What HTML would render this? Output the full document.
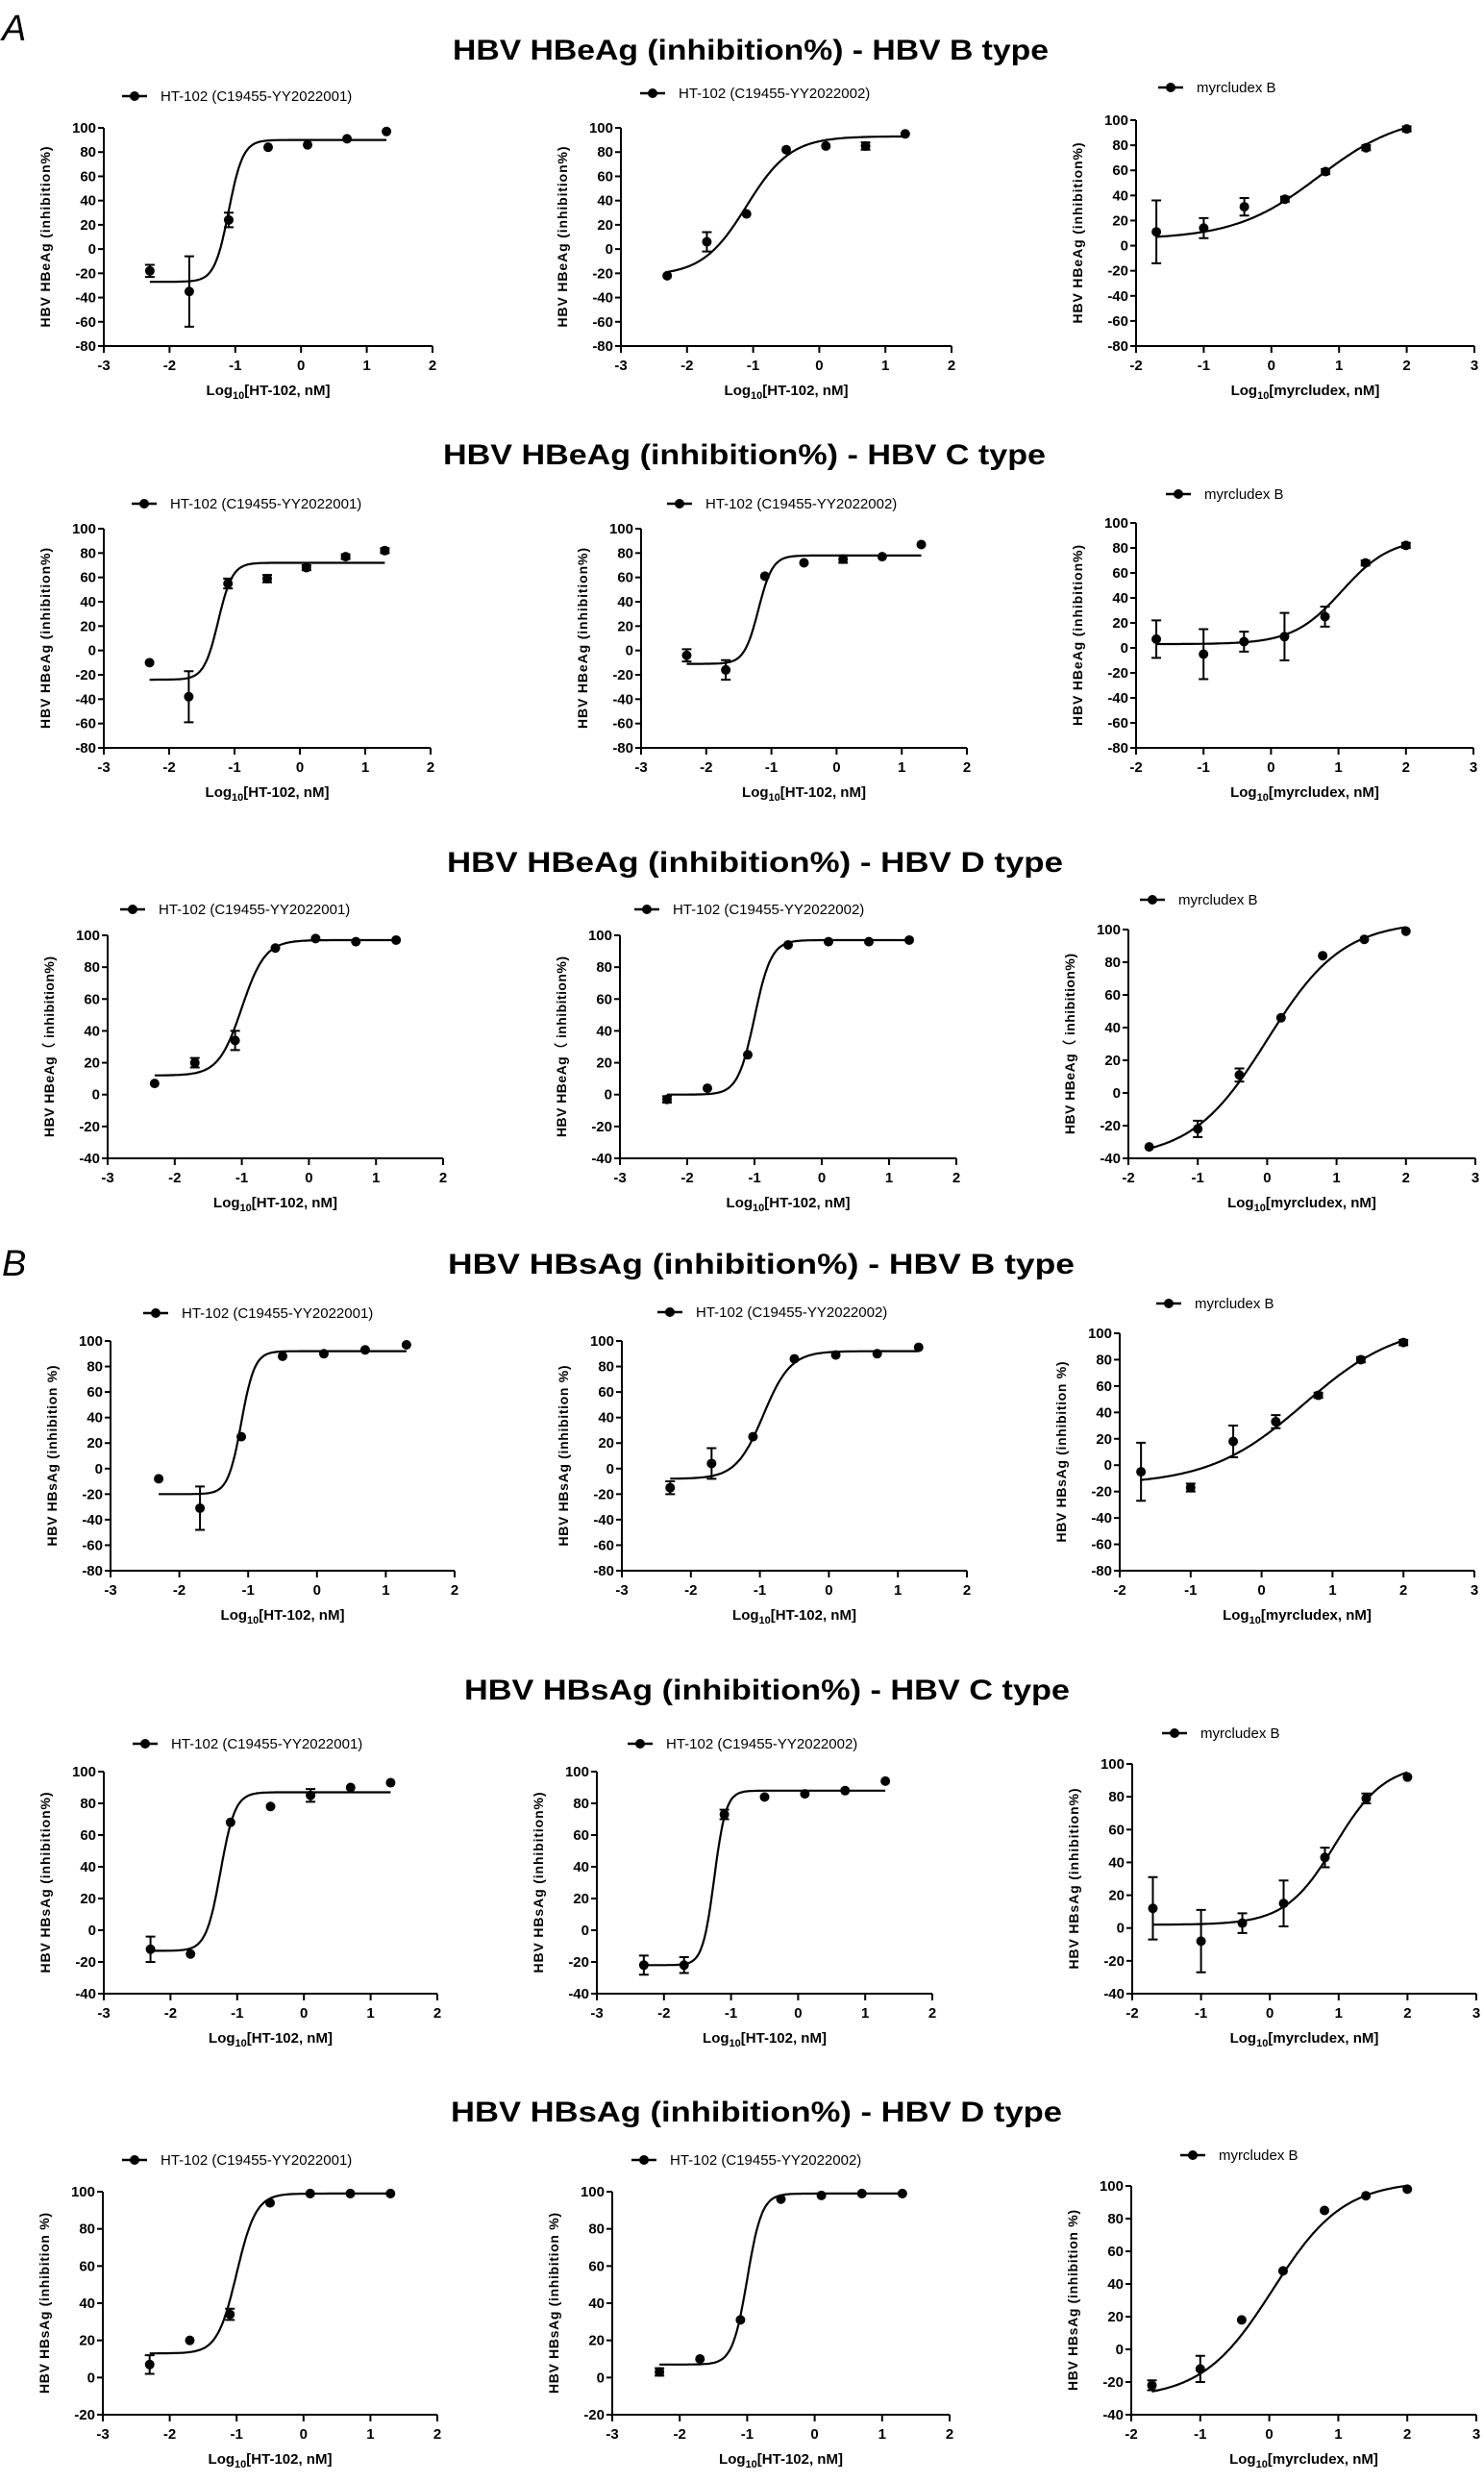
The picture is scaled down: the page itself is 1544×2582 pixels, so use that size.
<!DOCTYPE html>
<html><head><meta charset="utf-8"><style>
html,body{margin:0;padding:0;background:#fff;}
svg{display:block;font-family:"Liberation Sans",Arial,sans-serif;}
</style></head><body>
<svg id="fig" width="1544" height="2582" viewBox="0 0 1544 2582" xmlns="http://www.w3.org/2000/svg">
<rect width="1544" height="2582" fill="#fff"/>
<text x="2" y="42" font-size="38" font-style="italic">A</text>
<text x="2" y="1327" font-size="38" font-style="italic">B</text>
</svg>
<script>
// ---- data ----
const htX = [-2.3,-1.7,-1.1,-0.5,0.1,0.7,1.3];
const myrX = [-1.7,-1,-0.4,0.2,0.8,1.4,2.0];
const yTickStep = 20;
// fit params: [bottom, top, logEC50, hill]
const abP1Y=[-18,-35,24,84,86,91,97], abP1E=[5,29,6,0,0,0,0], abP1F=[-27,90,-1.1,4];
const abP2Y=[-22,6,29,82,85,85,95], abP2E=[0,8,0,0,0,3,0], abP2F=[-22,93,-1.1,1.3];
const abP3Y=[11,14,31,37,59,78,93], abP3E=[25,8,7,2,2,2,2], abP3F=[5,105,0.7,0.7];
const acP1Y=[-10,-38,55,59,68,77,82], acP1E=[0,21,4,3,2,2,2], acP1F=[-24,72,-1.25,4];
const acP2Y=[-4,-16,61,72,75,77,87], acP2E=[5,8,0,0,3,0,0], acP2F=[-11,78,-1.2,4];
const acP3Y=[7,-5,5,9,25,68,82], acP3E=[15,20,8,19,8,2,2], acP3F=[3,88,1.05,1.2];
const adP1Y=[7,20,34,92,98,96,97], adP1E=[0,3,6,0,0,0,0], adP1F=[12,97,-1.0,2.5];
const adP2Y=[-3,4,25,94,96,96,97], adP2E=[2,0,0,0,0,0,0], adP2F=[0,97,-1.0,3.5];
const adP3Y=[-33,-22,11,46,84,94,99], adP3E=[0,5,4,0,0,0,0], adP3F=[-40,105,0,0.8];
const bbP1Y=[-8,-31,25,88,90,93,97], bbP1E=[0,17,0,0,0,0,0], bbP1F=[-20,92,-1.1,4.5];
const bbP2Y=[-15,4,25,86,89,90,95], bbP2E=[5,12,0,0,0,0,0], bbP2F=[-8,92,-0.95,2.2];
const bbP3Y=[-5,-17,18,33,53,80,93], bbP3E=[22,3,12,5,2,2,2], bbP3F=[-15,108,0.6,0.65];
const bcP1Y=[-12,-15,68,78,85,90,93], bcP1E=[8,0,0,0,4,0,0], bcP1F=[-13,87,-1.25,4];
const bcP2Y=[-22,-22,73,84,86,88,94], bcP2E=[6,5,3,0,0,0,0], bcP2F=[-22,88,-1.25,5];
const bcP3Y=[12,-8,3,15,43,79,92], bcP3E=[19,19,6,14,6,3,0], bcP3F=[2,100,0.95,1.2];
const bdP1Y=[7,20,34,94,99,99,99], bdP1E=[5,0,3,0,0,0,0], bdP1F=[13,99,-1.0,3];
const bdP2Y=[3,10,31,96,98,99,99], bdP2E=[2,0,0,0,0,0,0], bdP2F=[7,99,-1.0,4];
const bdP3Y=[-22,-12,18,48,85,94,98], bdP3E=[3,8,0,0,0,0,0], bdP3F=[-30,103,0.05,0.85];

const titles=[
 ["HBV HBeAg (inhibition%) - HBV B type",52,471,620],
 ["HBV HBeAg (inhibition%)  - HBV C type",473,461,627],
 ["HBV HBeAg (inhibition%)  - HBV D type",897,465,641],
 ["HBV HBsAg (inhibition%) - HBV B type",1315,466,652],
 ["HBV HBsAg (inhibition%) - HBV C type",1758,483,630],
 ["HBV HBsAg (inhibition%)  - HBV D type",2197,469,636]
];
const L1="HT-102 (C19455-YY2022001)", L2="HT-102 (C19455-YY2022002)", L3="myrcludex B";
const XT1="[HT-102, nM]", XT3="[myrcludex, nM]";
const panels=[
 [108,450,133,360,-3,2,-80,100,140,"HBV HBeAg (inhibition%)",L1,XT1,abP1Y,abP1E,abP1F,htX,"a-b-1"],
 [646,990,133,360,-3,2,-80,97,679,"HBV HBeAg (inhibition%)",L2,XT1,abP2Y,abP2E,abP2F,htX,"a-b-2"],
 [1182,1534,125,360,-2,3,-80,91,1218,"HBV HBeAg (inhibition%)",L3,XT3,abP3Y,abP3E,abP3F,myrX,"a-b-3"],
 [108,448,550,778,-3,2,-80,524,150,"HBV HBeAg (inhibition%)",L1,XT1,acP1Y,acP1E,acP1F,htX,"a-c-1"],
 [667,1006,550,778,-3,2,-80,524,707,"HBV HBeAg (inhibition%)",L2,XT1,acP2Y,acP2E,acP2F,htX,"a-c-2"],
 [1182,1533,544,778,-2,3,-80,514,1226,"HBV HBeAg (inhibition%)",L3,XT3,acP3Y,acP3E,acP3F,myrX,"a-c-3"],
 [112,461,973,1205,-3,2,-40,946,138,"HBV HBeAg（ inhibition%)",L1,XT1,adP1Y,adP1E,adP1F,htX,"a-d-1"],
 [645,995,973,1205,-3,2,-40,946,673,"HBV HBeAg（ inhibition%)",L2,XT1,adP2Y,adP2E,adP2F,htX,"a-d-2"],
 [1174,1535,967,1205,-2,3,-40,936,1199,"HBV HBeAg（ inhibition%)",L3,XT3,adP3Y,adP3E,adP3F,myrX,"a-d-3"],
 [115,473,1395,1634,-3,2,-80,1366,162,"HBV HBsAg (inhibition %)",L1,XT1,bbP1Y,bbP1E,bbP1F,htX,"b-b-1"],
 [647,1006,1395,1634,-3,2,-80,1365,697,"HBV HBsAg (inhibition %)",L2,XT1,bbP2Y,bbP2E,bbP2F,htX,"b-b-2"],
 [1165,1534,1387,1634,-2,3,-80,1356,1216,"HBV HBsAg (inhibition %)",L3,XT3,bbP3Y,bbP3E,bbP3F,myrX,"b-b-3"],
 [108,455,1843,2074,-3,2,-40,1814,151,"HBV HBsAg (inhibition%)",L1,XT1,bcP1Y,bcP1E,bcP1F,htX,"b-c-1"],
 [621,970,1843,2074,-3,2,-40,1814,666,"HBV HBsAg (inhibition%)",L2,XT1,bcP2Y,bcP2E,bcP2F,htX,"b-c-2"],
 [1178,1536,1835,2074,-2,3,-40,1803,1222,"HBV HBsAg (inhibition%)",L3,XT3,bcP3Y,bcP3E,bcP3F,myrX,"b-c-3"],
 [107,455,2280,2512,-3,2,-20,2247,140,"HBV HBsAg (inhibition %)",L1,XT1,bdP1Y,bdP1E,bdP1F,htX,"b-d-1"],
 [637,988,2280,2512,-3,2,-20,2247,670,"HBV HBsAg (inhibition %)",L2,XT1,bdP2Y,bdP2E,bdP2F,htX,"b-d-2"],
 [1177,1536,2274,2512,-2,3,-40,2242,1241,"HBV HBsAg (inhibition %)",L3,XT3,bdP3Y,bdP3E,bdP3F,myrX,"b-d-3"]
];
const NS="http://www.w3.org/2000/svg";
const svg=document.getElementById('fig');
function mk(tag,attrs,parent,txt){const e=document.createElementNS(NS,tag);for(const k in attrs)e.setAttribute(k,attrs[k]);if(txt!=null)e.textContent=txt;(parent||svg).appendChild(e);return e;}
function logistic(f,x){return f[0]+(f[1]-f[0])/(1+Math.pow(10,f[3]*(f[2]-x)));}

titles.forEach((t,i)=>{
  const e=mk('text',{x:t[2],y:t[1]+10,'font-size':30,'font-weight':'bold',textLength:t[3],lengthAdjust:'spacingAndGlyphs'},svg,t[0]);
  
  
});

panels.forEach(p=>{
  const [x0,x1,yT,yB,xmin,xmax,ymin,legY,mX,ytitle,leg,xt,Y,E,F,X,name]=p;
  const ymax=100;
  const sx=v=>x0+(v-xmin)/(xmax-xmin)*(x1-x0);
  const sy=v=>yB-(v-ymin)/(ymax-ymin)*(yB-yT);
  const g=mk('g',{});
  
  
  const lg=mk('g',{},g);
  
  
  mk('line',{x1:mX-13,x2:mX+13,y1:legY,y2:legY,stroke:'#000','stroke-width':2.5},lg);
  mk('circle',{cx:mX,cy:legY,r:5,fill:'#000'},lg);
  mk('text',{x:mX+27,y:legY+5,'font-size':15},lg,leg);
  const ax=mk('g',{stroke:'#000','stroke-width':2,fill:'none'},g);
  
  
  mk('line',{x1:x0,x2:x0,y1:yT,y2:yB},ax);
  mk('line',{x1:x0,x2:x1,y1:yB,y2:yB},ax);
  const yl=mk('g',{'font-size':15,'font-weight':'bold','text-anchor':'end'},g);
  
  
  for(let v=ymin;v<=ymax;v+=yTickStep){
    mk('line',{x1:x0-6,x2:x0,y1:sy(v),y2:sy(v)},ax);
    mk('text',{x:x0-8,y:sy(v)+5},yl,String(v));
  }
  const xl=mk('g',{'font-size':15,'font-weight':'bold','text-anchor':'middle'},g);
  
  
  for(let v=xmin;v<=xmax;v++){
    mk('line',{x1:sx(v),x2:sx(v),y1:yB,y2:yB+7},ax);
    mk('text',{x:sx(v),y:yB+25},xl,String(v));
  }
  const xtt=mk('text',{x:(x0+x1)/2,y:yB+51,'font-size':15,'font-weight':'bold','text-anchor':'middle'},g);
  
  
  mk('tspan',{},xtt,'Log');
  mk('tspan',{'font-size':11,dy:4},xtt,'10');
  mk('tspan',{dy:-4},xtt,xt);
  const cy=(yT+yB)/2, tx=x0-56;
  const ytt=mk('text',{x:tx,y:cy,'font-size':14,'font-weight':'bold','text-anchor':'middle',textLength:188,lengthAdjust:'spacing',transform:`rotate(-90 ${tx} ${cy})`},g,ytitle);
  
  
  let d='';const n=160,a=X[0],b=X[X.length-1];
  for(let i=0;i<=n;i++){const xv=a+(b-a)*i/n;d+=(i?'L':'M')+sx(xv).toFixed(1)+' '+sy(logistic(F,xv)).toFixed(1);}
  const c=mk('path',{d:d,fill:'none',stroke:'#000','stroke-width':2.2},g);
  
  
  X.forEach((xv,i)=>{
    const px=sx(xv),py=sy(Y[i]);
    if(E[i]>0){
      const t=sy(Y[i]+E[i]),bt=sy(Y[i]-E[i]);
      const eb=mk('path',{d:`M${px} ${t}V${bt}M${px-5} ${t}H${px+5}M${px-5} ${bt}H${px+5}`,stroke:'#000','stroke-width':2,fill:'none'},g);
      
      
    }
    const pt=mk('circle',{cx:px,cy:py,r:5,fill:'#000'},g);
    
    
  });
});
</script>
</body></html>
